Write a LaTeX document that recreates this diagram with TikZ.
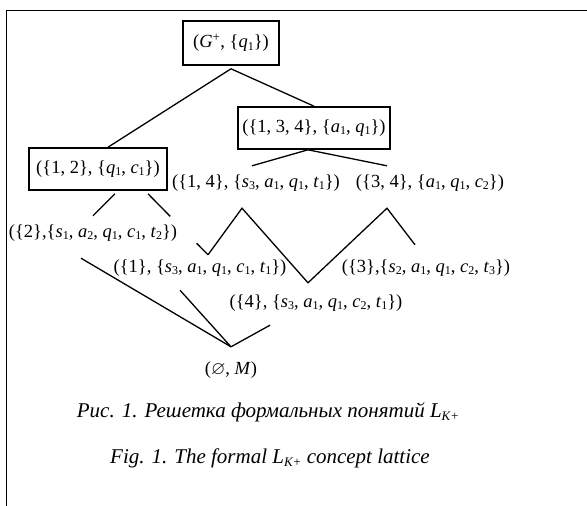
\documentclass[tikz,border=0pt]{standalone}
\usepackage{amssymb}
\usepackage{fontspec}
\setmainfont{Liberation Serif}
\usetikzlibrary{calc}
\newcommand{\vr}[2]{\textit{#1}\raisebox{-0.3ex}{\fontsize{12}{12}\selectfont #2}}
\tikzset{
  concept/.style = {draw, line width=1.6pt, inner sep=0pt, font=\fontsize{18.5}{21}\selectfont},
  conlabel/.style = {inner sep=0pt, text height=13pt, text depth=5pt, font=\fontsize{18.5}{21}\selectfont},
  caption/.style = {inner sep=0pt, font=\fontsize{21}{24}\selectfont\itshape},
  link/.style = {line width=1.3pt},
}
\begin{document}
\begin{tikzpicture}[x=1pt,y=-1pt]
  \useasboundingbox (0,0) rectangle (587,506);
  \draw[line width=0.8pt] (6,506) -- (6,10) -- (587,10);

  % boxed concepts
  \node[concept,minimum width=96pt,minimum height=44pt] (top) at (231,43)
    {(\textit{G}\textsuperscript{+}, \{\vr{q}{1}\})};
  \node[concept,minimum width=152pt,minimum height=42pt] (c134) at (314,128)
    {(\{1, 3, 4\}, \{\vr{a}{1}, \vr{q}{1}\})};
  \node[concept,minimum width=138pt,minimum height=42pt] (c12) at (98,169)
    {(\{1, 2\}, \{\vr{q}{1}, \vr{c}{1}\})};

  % plain concepts
  \node[conlabel] (c14) at (256,183) {(\{1, 4\}, \{\vr{s}{3}, \vr{a}{1}, \vr{q}{1}, \vr{t}{1}\})};
  \node[conlabel] (c34) at (430,183) {(\{3, 4\}, \{\vr{a}{1}, \vr{q}{1}, \vr{c}{2}\})};
  \node[conlabel] (c2) at (93,233) {(\{2\},\{\vr{s}{1}, \vr{a}{2}, \vr{q}{1}, \vr{c}{1}, \vr{t}{2}\})};
  \node[conlabel] (c1) at (200,268) {(\{1\}, \{\vr{s}{3}, \vr{a}{1}, \vr{q}{1}, \vr{c}{1}, \vr{t}{1}\})};
  \node[conlabel] (c3) at (426,268) {(\{3\},\{\vr{s}{2}, \vr{a}{1}, \vr{q}{1}, \vr{c}{2}, \vr{t}{3}\})};
  \node[conlabel] (c4) at (316,303) {(\{4\}, \{\vr{s}{3}, \vr{a}{1}, \vr{q}{1}, \vr{c}{2}, \vr{t}{1}\})};
  \node[conlabel] (bot) at (231,370) {($\varnothing$, \textit{M})};

  % captions
  \node[caption] (capru) at (268,412) {Рис. 1. Решетка формальных понятий L\raisebox{-0.3ex}{\fontsize{13}{13}\selectfont K+}};
  \node[caption] (capen) at (270,458) {Fig. 1. The formal L\raisebox{-0.3ex}{\fontsize{13}{13}\selectfont K+} concept lattice};

  % lattice edges
  \draw[link] ([yshift=-3pt]top.south) -- ([xshift=10pt]c12.north);
  \draw[link] ([yshift=-3pt]top.south) -- (c134.north);
  \draw[link] ([xshift=-6pt]c134.south) -- ([shift={(-4pt,8pt)}]c14.north);
  \draw[link] ([xshift=-6pt]c134.south) -- ([shift={(-43pt,8pt)}]c34.north);
  \draw[link] ([shift={(17pt,-3pt)}]c12.south) -- ([yshift=8pt]c2.north);
  \draw[link] ([shift={(50pt,-3pt)}]c12.south) -- ($([shift={(50pt,-3pt)}]c12.south)!0.37!([shift={(8pt,4pt)}]c1.north)$)
    ($([shift={(50pt,-3pt)}]c12.south)!0.81!([shift={(8pt,4pt)}]c1.north)$) -- ([shift={(8pt,4pt)}]c1.north);
  \draw[link] ([shift={(8pt,4pt)}]c1.north) -- ([shift={(-14pt,-16pt)}]c14.south)
    -- ([shift={(-8pt,11pt)}]c4.north) -- ([shift={(-43pt,-16pt)}]c34.south)
    -- ([shift={(-11pt,14pt)}]c3.north);
  \draw[link] ([shift={(-12pt,-16pt)}]c2.south) -- ([yshift=14pt]bot.north);
  \draw[link] ([shift={(-20pt,-13pt)}]c1.south) -- ([yshift=14pt]bot.north);
  \draw[link] ([shift={(-46pt,-13pt)}]c4.south) -- ([yshift=14pt]bot.north);
\end{tikzpicture}
\end{document}
